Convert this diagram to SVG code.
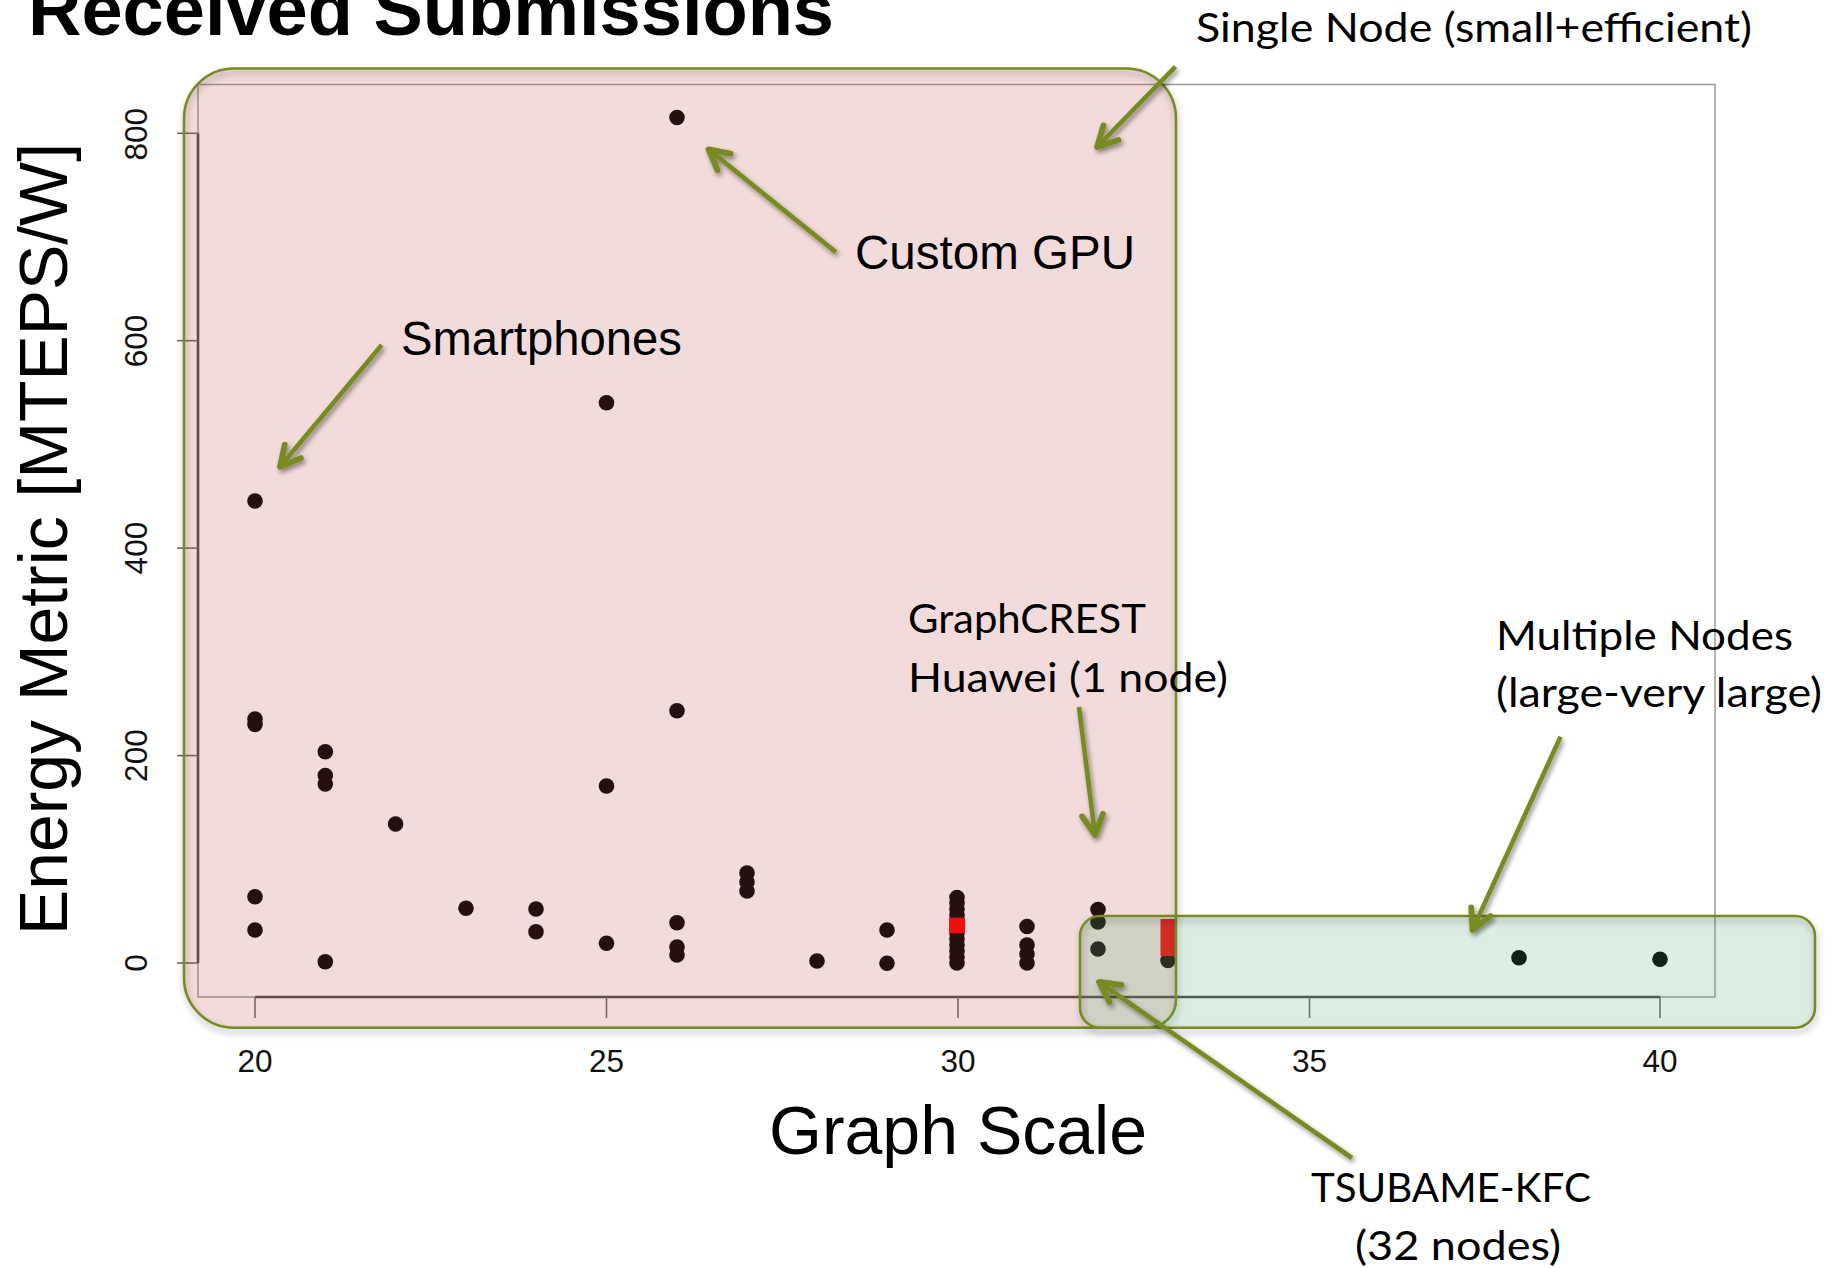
<svg xmlns="http://www.w3.org/2000/svg" width="1833" height="1268" viewBox="0 0 1833 1268">
<style>
  .dot { fill: #000; }
  .red { fill: #ff0000; }
  .tick { stroke: #6a6a6a; stroke-width: 1.6; fill: none; }
  .axis { stroke: #4a4a4a; stroke-width: 2.6; fill: none; }
  .box { stroke: #9a9a9a; stroke-width: 1.5; fill: none; }
  .ticklab { font-family: "Liberation Sans", Arial, sans-serif; font-size: 31.5px; fill: #111; }
  .axtitle { font-family: "Liberation Sans", Arial, sans-serif; font-size: 69px; fill: #000; }
  .helv { font-family: "Liberation Sans", Arial, sans-serif; font-size: 48px; fill: #000; }
  .cal { font-family: Lato, "Open Sans", sans-serif; font-size: 40px; fill: #000; }
  .title { font-family: "Liberation Sans", Arial, sans-serif; font-weight: bold; font-size: 74px; fill: #000; }
  .conn { stroke: #788a20; stroke-width: 4.6; fill: none; marker-end: url(#ah); }
  .edge { stroke: #788a20; stroke-width: 2.6; fill: none; }
</style>
<defs>
  <marker id="ah" markerUnits="userSpaceOnUse" markerWidth="50" markerHeight="50" viewBox="-30 -25 50 50" refX="0" refY="0" orient="auto" overflow="visible">
    <path d="M-20,-10.5 L0,0 L-20,10.5" fill="none" stroke="#788a20" stroke-width="5.8" stroke-linecap="round" stroke-linejoin="round"/>
  </marker>
  <filter id="sh" x="-20%" y="-20%" width="140%" height="140%">
    <feGaussianBlur in="SourceAlpha" stdDeviation="2.6"/>
    <feOffset dx="2" dy="3" result="b"/>
    <feComponentTransfer><feFuncA type="linear" slope="0.45"/></feComponentTransfer>
    <feMerge><feMergeNode/><feMergeNode in="SourceGraphic"/></feMerge>
  </filter>
  <filter id="shr" x="-5%" y="-5%" width="110%" height="115%">
    <feGaussianBlur in="SourceAlpha" stdDeviation="3.5"/>
    <feOffset dx="1" dy="4" result="b"/>
    <feComponentTransfer><feFuncA type="linear" slope="0.35"/></feComponentTransfer>
    <feMerge><feMergeNode/><feMergeNode in="SourceGraphic"/></feMerge>
  </filter>
  <path id="pinkShape" d="M234,68.5 H1126 A50,50 0 0 1 1176,118.5 V999.7 A28,28 0 0 1 1148,1027.7 H234 A50,50 0 0 1 184,977.7 V118.5 A50,50 0 0 1 234,68.5 Z"/>
</defs>
<rect width="1833" height="1268" fill="#ffffff"/>

<text id="title" class="title" x="28" y="35" textLength="806" lengthAdjust="spacingAndGlyphs">Received Submissions</text>

<g id="plot">
  <rect class="box" x="198" y="84.5" width="1517" height="912.5"/>
  <line class="axis" x1="198" y1="133.3" x2="198" y2="963"/>
  <line class="axis" x1="255" y1="997" x2="1660" y2="997"/>
  <g class="tick">
    <line x1="177" y1="133.3" x2="198" y2="133.3"/>
    <line x1="177" y1="340.7" x2="198" y2="340.7"/>
    <line x1="177" y1="548.1" x2="198" y2="548.1"/>
    <line x1="177" y1="755.6" x2="198" y2="755.6"/>
    <line x1="177" y1="963" x2="198" y2="963"/>
    <line x1="255" y1="997" x2="255" y2="1018"/>
    <line x1="606.5" y1="997" x2="606.5" y2="1018"/>
    <line x1="958" y1="997" x2="958" y2="1018"/>
    <line x1="1309.5" y1="997" x2="1309.5" y2="1018"/>
    <line x1="1660" y1="997" x2="1660" y2="1018"/>
  </g>
  <g class="ticklab" text-anchor="middle">
    <text transform="translate(147,134.3) rotate(-90)">800</text>
    <text transform="translate(147,341) rotate(-90)">600</text>
    <text transform="translate(147,548.1) rotate(-90)">400</text>
    <text transform="translate(147,755.6) rotate(-90)">200</text>
    <text transform="translate(147,963) rotate(-90)">0</text>
    <text x="255" y="1072">20</text>
    <text x="606.5" y="1072">25</text>
    <text x="958" y="1072">30</text>
    <text x="1309.5" y="1072">35</text>
    <text x="1660" y="1072">40</text>
  </g>
  <text class="axtitle" transform="translate(67,539) rotate(-90)" text-anchor="middle" textLength="792" lengthAdjust="spacingAndGlyphs">Energy Metric [MTEPS/W]</text>
  <text class="axtitle" x="958" y="1154" text-anchor="middle" textLength="378" lengthAdjust="spacingAndGlyphs">Graph Scale</text>
  <g id="points" class="dot">
    <circle cx="255" cy="501" r="7.8"/>
    <circle cx="255" cy="719" r="7.8"/>
    <circle cx="255" cy="724.5" r="7.8"/>
    <circle cx="255" cy="896.7" r="7.8"/>
    <circle cx="255" cy="930" r="7.8"/>
    <circle cx="325.3" cy="751.7" r="7.8"/>
    <circle cx="325.3" cy="775.5" r="7.8"/>
    <circle cx="325.3" cy="784" r="7.8"/>
    <circle cx="325.3" cy="961.7" r="7.8"/>
    <circle cx="395.6" cy="824" r="7.8"/>
    <circle cx="466" cy="908.3" r="7.8"/>
    <circle cx="536" cy="909" r="7.8"/>
    <circle cx="536" cy="931.7" r="7.8"/>
    <circle cx="606.5" cy="402.7" r="7.8"/>
    <circle cx="606.5" cy="786" r="7.8"/>
    <circle cx="606.5" cy="943.3" r="7.8"/>
    <circle cx="677" cy="117.5" r="7.8"/>
    <circle cx="677" cy="710.7" r="7.8"/>
    <circle cx="677" cy="922.7" r="7.8"/>
    <circle cx="677" cy="947" r="7.8"/>
    <circle cx="677" cy="955" r="7.8"/>
    <circle cx="747" cy="873" r="7.8"/>
    <circle cx="747" cy="882" r="7.8"/>
    <circle cx="747" cy="891" r="7.8"/>
    <circle cx="817" cy="961" r="7.8"/>
    <circle cx="887" cy="930" r="7.8"/>
    <circle cx="887" cy="963.3" r="7.8"/>
    <circle cx="957" cy="897.5" r="7.8"/>
    <circle cx="957" cy="903" r="7.8"/>
    <circle cx="957" cy="909" r="7.8"/>
    <circle cx="957" cy="915" r="7.8"/>
    <circle cx="957" cy="921" r="7.8"/>
    <circle cx="957" cy="927" r="7.8"/>
    <circle cx="957" cy="933" r="7.8"/>
    <circle cx="957" cy="939" r="7.8"/>
    <circle cx="957" cy="945" r="7.8"/>
    <circle cx="957" cy="951" r="7.8"/>
    <circle cx="957" cy="957" r="7.8"/>
    <circle cx="957" cy="963" r="7.8"/>
    <circle cx="1027" cy="926.5" r="7.8"/>
    <circle cx="1027" cy="945" r="7.8"/>
    <circle cx="1027" cy="954" r="7.8"/>
    <circle cx="1027" cy="963" r="7.8"/>
    <circle cx="1098" cy="909.5" r="7.8"/>
    <circle cx="1098" cy="922" r="7.8"/>
    <circle cx="1098" cy="949" r="7.8"/>
    <circle cx="1168" cy="960.5" r="7.8"/>
    <circle cx="1519" cy="957.7" r="7.8"/>
    <circle cx="1660" cy="959.3" r="7.8"/>
    <rect class="red" x="949" y="917.7" width="16" height="15.6"/>
    <rect class="red" x="1160.5" y="919" width="15" height="37"/>
  </g>
</g>

<g id="node-single-region">
  <use href="#pinkShape" fill="#c0504d" fill-opacity="0.2"/>
  <use href="#pinkShape" class="edge" filter="url(#shr)"/>
</g>
<g id="node-multiple-region">
  <rect fill="#50a573" fill-opacity="0.2" x="1080" y="916" width="735" height="111.7" rx="20" ry="20"/>
  <rect class="edge" filter="url(#shr)" x="1080" y="916" width="735" height="111.7" rx="20" ry="20"/>
</g>

<g id="connectors" filter="url(#sh)">
  <line class="conn" x1="1175.5" y1="66.7" x2="1097" y2="147"/>
  <line class="conn" x1="836" y1="252.3" x2="708.5" y2="149.3"/>
  <line class="conn" x1="381.7" y1="345" x2="280" y2="466.7"/>
  <line class="conn" x1="1079" y1="707" x2="1095" y2="835"/>
  <line class="conn" x1="1560.5" y1="736.7" x2="1472.5" y2="930"/>
  <line class="conn" x1="1352" y1="1158" x2="1099" y2="982"/>
</g>

<g id="label-single-node">
  <text class="cal" x="1196" y="41.7" textLength="556" lengthAdjust="spacingAndGlyphs">Single Node (small+efficient)</text>
</g>
<g id="label-custom-gpu">
  <text class="helv" x="855" y="268.5" textLength="280" lengthAdjust="spacingAndGlyphs">Custom GPU</text>
</g>
<g id="label-smartphones">
  <text class="helv" x="401" y="355" textLength="281" lengthAdjust="spacingAndGlyphs">Smartphones</text>
</g>
<g id="label-graphcrest">
  <text class="cal" x="908" y="633.3" textLength="238" lengthAdjust="spacingAndGlyphs">GraphCREST</text>
  <text class="cal" x="908" y="691.7" textLength="320" lengthAdjust="spacingAndGlyphs">Huawei (1 node)</text>
</g>
<g id="label-multiple-nodes">
  <text class="cal" x="1496" y="650" textLength="297" lengthAdjust="spacingAndGlyphs">Multiple Nodes</text>
  <text class="cal" x="1496" y="706.7" textLength="326" lengthAdjust="spacingAndGlyphs">(large-very large)</text>
</g>
<g id="label-tsubame">
  <text class="cal" x="1311" y="1201.7" textLength="280" lengthAdjust="spacingAndGlyphs">TSUBAME-KFC</text>
  <text class="cal" x="1355" y="1260" textLength="206" lengthAdjust="spacingAndGlyphs">(32 nodes)</text>
</g>
</svg>
